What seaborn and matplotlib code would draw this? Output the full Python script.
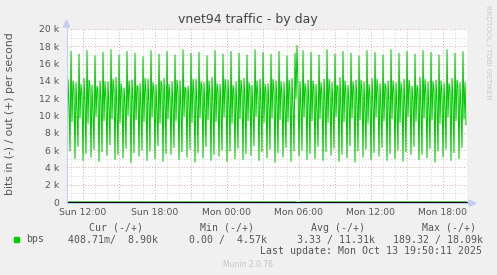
import numpy as np
import pandas as pd
import matplotlib
matplotlib.use("Agg")
import matplotlib.pyplot as plt
import matplotlib.dates as mdates
from matplotlib.ticker import FixedLocator, FixedFormatter
from matplotlib.patches import Rectangle, Polygon
from matplotlib.lines import Line2D
import seaborn as sns

# ---------------- data ----------------
start_time = "2025-10-12 10:40"
step_minutes = 5

# out traffic (+), kbit/s, one sample per 5 minutes
out_kbps = [
    4.6, 14.2, 11.3, 5.9, 17.4, 9.3, 14.0, 13.0,
    5.0, 13.8, 10.8, 6.4, 17.1, 9.7, 13.6, 12.4,
    4.8, 14.3, 11.6, 5.6, 17.5, 9.1, 14.1, 13.3,
    5.2, 13.5, 10.5, 6.1, 16.9, 9.9, 13.4, 12.7,
    4.7, 14.0, 11.9, 5.8, 17.3, 9.4, 13.9, 12.1,
    5.4, 13.9, 11.0, 6.6, 17.6, 9.6, 14.2, 13.1,
    4.9, 14.4, 10.7, 5.5, 17.0, 9.2, 13.7, 12.8,
    5.1, 13.2, 11.4, 6.2, 17.4, 10.0, 14.0, 12.3,
    4.57, 14.1, 11.8, 5.7, 17.2, 9.5, 13.5, 13.2,
    5.3, 13.7, 10.9, 6.0, 16.8, 9.3, 14.3, 12.6,
    4.8, 14.2, 11.5, 5.9, 17.5, 9.8, 13.8, 12.9,
    5.0, 13.6, 10.6, 6.5, 17.1, 9.1, 14.0, 13.4,
    4.7, 14.3, 11.7, 5.6, 17.4, 9.6, 13.6, 12.2,
    5.5, 13.9, 11.1, 6.3, 17.0, 9.4, 14.1, 12.8,
    4.9, 14.0, 10.8, 5.8, 17.6, 9.9, 13.3, 13.0,
    5.2, 13.4, 11.9, 6.1, 17.2, 9.2, 14.2, 12.5,
    4.6, 14.2, 11.2, 5.7, 17.3, 9.7, 13.9, 13.3,
    5.1, 13.8, 10.7, 6.4, 16.9, 9.5, 14.0, 12.4,
    4.8, 14.4, 11.6, 5.5, 17.5, 9.3, 13.7, 12.9,
    5.3, 13.6, 11.0, 6.0, 17.1, 9.8, 14.2, 13.1,
    4.7, 14.1, 11.4, 5.9, 17.4, 9.1, 13.5, 12.6,
    5.0, 13.9, 10.9, 6.2, 17.2, 9.6, 14.1, 12.8,
    4.9, 14.3, 11.8, 5.6, 17.0, 9.4, 13.8, 13.2,
    5.4, 13.5, 10.6, 6.5, 17.6, 9.9, 14.0, 12.3,
    4.8, 14.2, 11.5, 5.8, 17.3, 9.2, 13.6, 12.7,
    5.1, 13.7, 11.1, 6.1, 17.1, 9.7, 14.2, 13.0,
    4.6, 14.0, 11.7, 5.7, 17.4, 9.5, 13.9, 12.5,
    5.2, 13.8, 10.8, 6.3, 16.9, 9.3, 14.1, 12.9,
    4.7, 14.3, 11.3, 5.9, 17.2, 12.0, 18.09, 13.6,
    5.3, 13.9, 11.0, 6.0, 17.5, 9.8, 13.7, 12.8,
    4.9, 14.1, 11.6, 5.6, 17.3, 9.4, 14.0, 13.1,
    5.0, 13.6, 10.7, 6.4, 17.0, 9.6, 13.8, 12.4,
    4.8, 14.2, 11.9, 5.8, 17.6, 9.2, 14.2, 12.9,
    5.4, 13.8, 11.2, 6.2, 17.1, 9.9, 13.5, 13.3,
    4.7, 14.4, 10.9, 5.5, 17.4, 9.3, 14.0, 12.6,
    5.1, 13.5, 11.5, 6.5, 17.2, 9.7, 13.9, 12.8,
    4.6, 14.1, 11.8, 5.9, 16.9, 9.5, 14.1, 13.0,
    5.2, 13.9, 10.6, 6.1, 17.5, 9.1, 13.6, 12.3,
    4.9, 14.3, 11.4, 5.7, 17.3, 9.8, 14.2, 12.9,
    5.3, 13.7, 11.0, 6.3, 17.0, 9.4, 13.7, 13.2,
    4.8, 14.0, 11.7, 5.6, 17.6, 9.6, 14.0, 12.7,
    5.0, 13.8, 10.8, 6.0, 17.2, 9.2, 13.8, 12.5,
    4.7, 14.2, 11.3, 5.8, 17.4, 9.9, 14.1, 13.1,
    5.5, 13.4, 11.9, 6.4, 17.1, 9.3, 13.5, 12.8,
    4.9, 14.4, 11.1, 5.5, 17.5, 9.7, 14.2, 12.4,
    5.1, 13.9, 10.7, 6.2, 17.3, 9.5, 13.9, 13.0,
    4.6, 14.1, 11.6, 5.9, 17.0, 9.1, 14.0, 12.6,
    5.2, 13.7, 11.2, 6.1, 17.6, 9.8, 13.7, 12.9,
    4.8, 14.3, 11.5, 5.7, 17.2, 9.4, 14.1, 13.2,
    5.0, 13.8, 10.9, 6.3, 17.4, 9.6, 13.8, 8.9,
]

# in traffic (-), bit/s: essentially zero, one small burst
in_bps = [0.0] * 230 + [189.32, 160.0, 95.0, 40.0] + [0.0] * 165 + [0.41]

y_ticks_k = [0, 2, 4, 6, 8, 10, 12, 14, 16, 18, 20]
y_tick_labels = ["0", "2 k", "4 k", "6 k", "8 k", "10 k", "12 k", "14 k",
                 "16 k", "18 k", "20 k"]
x_major_times = ["2025-10-12 12:00", "2025-10-12 15:00", "2025-10-12 18:00",
                 "2025-10-12 21:00", "2025-10-13 00:00", "2025-10-13 03:00",
                 "2025-10-13 06:00", "2025-10-13 09:00", "2025-10-13 12:00",
                 "2025-10-13 15:00", "2025-10-13 18:00"]
x_major_labels = ["Sun 12:00", "", "Sun 18:00", "", "Mon 00:00", "",
                  "Mon 06:00", "", "Mon 12:00", "", "Mon 18:00"]

title = "vnet94 traffic - by day"
y_label = "bits in (-) / out (+) per second"
legend_header = ["Cur (-/+)", "Min (-/+)", "Avg (-/+)", "Max (-/+)"]
legend_values = ["408.71m/  8.90k", "0.00 /  4.57k", "3.33 / 11.31k", "189.32 / 18.09k"]
last_update = "Last update: Mon Oct 13 19:50:11 2025"

# ---------------- figure ----------------
W, H = 497, 275
BG = "#F0F0F0"
GREEN = "#00CC00"
TXT = "#555555"

sns.set_theme(style="white")
plt.rcParams["font.family"] = ["DejaVu Sans"]

fig = plt.figure(figsize=(W / 100, H / 100), dpi=100, facecolor=BG)

def fx(px):
    return px / W

def fy(py):
    return 1 - py / H

ax_l, ax_r, ax_t, ax_b = 67, 467, 29, 202
ax = fig.add_axes([fx(ax_l), fy(ax_b), (ax_r - ax_l) / W, (ax_b - ax_t) / H])
ax.set_facecolor("white")

t0 = pd.Timestamp(start_time)
times = pd.date_range(t0, periods=len(out_kbps), freq=f"{step_minutes}min")
df = pd.DataFrame({
    "time": times,
    "out": np.array(out_kbps) * 1000.0,
    "in": -np.array(in_bps),
})

sns.lineplot(data=df, x="time", y="out", ax=ax, color=GREEN, lw=0.75,
             estimator=None, zorder=3)
sns.lineplot(data=df, x="time", y="in", ax=ax, color=GREEN, lw=0.75,
             estimator=None, zorder=3)

ax.set_xlim(t0, t0 + pd.Timedelta(minutes=step_minutes * 400))
ax.set_ylim(0, 20000)

# ticks and grid
major_x = [mdates.date2num(pd.Timestamp(t)) for t in x_major_times]
ax.xaxis.set_major_locator(FixedLocator(major_x))
ax.xaxis.set_major_formatter(FixedFormatter(x_major_labels))
ax.xaxis.set_minor_locator(mdates.HourLocator())
ax.yaxis.set_major_locator(FixedLocator([v * 1000 for v in y_ticks_k]))
ax.yaxis.set_major_formatter(FixedFormatter(y_tick_labels))
ax.yaxis.set_minor_locator(FixedLocator([v * 1000 for v in range(1, 20, 2)]))

ax.grid(which="major", color="#E6A6A6", linestyle=(0, (1, 2)), lw=0.7)
ax.grid(which="minor", color="#D2D2D2", linestyle=(0, (1, 2)), lw=0.7)
ax.set_axisbelow(True)

ax.tick_params(which="both", direction="out", length=1.5, width=0.6,
               labelsize=6.7, labelcolor=TXT)
ax.tick_params(which="major", color="#E6A6A6")
ax.tick_params(which="minor", color="#D2D2D2")
ax.tick_params(axis="y", pad=4.2)
ax.tick_params(axis="x", pad=2.6)
for s in ax.spines.values():
    s.set_visible(False)
ax.set_xlabel("")
ax.set_ylabel("")

# zero line
ax.axhline(0, color="black", lw=0.9, zorder=6, clip_on=False)

# axis arrows (figure decoration)
AXC = "#C4CCF0"
fig.add_artist(Line2D([fx(66.5), fx(66.5)], [fy(203), fy(25)], color=AXC, lw=0.8))
fig.add_artist(Polygon([[fx(66.5), fy(20)], [fx(63.5), fy(27)], [fx(69.5), fy(27)]],
                       closed=True, color=AXC, transform=fig.transFigure))
fig.add_artist(Line2D([fx(66), fx(471)], [fy(203.2), fy(203.2)], color=AXC, lw=0.8,
                      zorder=1))
fig.add_artist(Polygon([[fx(476), fy(203.2)], [fx(469), fy(200.2)], [fx(469), fy(206.2)]],
                       closed=True, color=AXC, transform=fig.transFigure))

# texts
fig.text(fx(248), fy(19), title, ha="center", va="center", fontsize=9,
         color="#444444")
fig.text(fx(10.5), fy(114), y_label, ha="center", va="center", rotation=90,
         fontsize=7.8, color=TXT)
fig.text(fx(488), fy(5), "RRDTOOL / TOBI OETIKER", ha="center", va="top",
         rotation=270, fontsize=5.3, color="#C8C8C8")
fig.text(fx(248), fy(264.3), "Munin 2.0.76", ha="center", va="center",
         fontsize=5.5, color="#C4C4C4")

MONO = ["DejaVu Sans Mono"]
header_right = [143, 254, 365, 476]
value_right = [158, 267, 375, 483]
for s, xr in zip(legend_header, header_right):
    fig.text(fx(xr), fy(228), s, ha="right", va="center", fontsize=7.15,
             family=MONO, color=TXT)
fig.add_artist(Rectangle((fx(14), fy(242)), 5 / W, 5 / H, color=GREEN,
                         transform=fig.transFigure))
fig.text(fx(26.5), fy(239.5), "bps", ha="left", va="center", fontsize=7.15,
         family=MONO, color=TXT)
for s, xr in zip(legend_values, value_right):
    fig.text(fx(xr), fy(239.5), s, ha="right", va="center", fontsize=7.15,
             family=MONO, color=TXT)
fig.text(fx(482.5), fy(251.5), last_update, ha="right", va="center",
         fontsize=7.15, family=MONO, color=TXT)

fig.savefig("out.png", dpi=100, facecolor=BG)
